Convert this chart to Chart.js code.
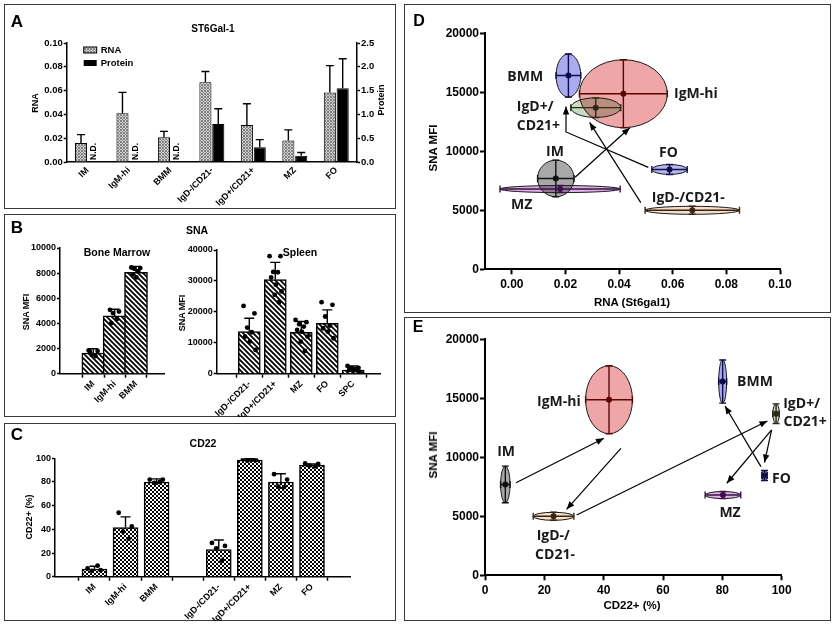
<!DOCTYPE html>
<html>
<head>
<meta charset="utf-8">
<script src="https://cdn.jsdelivr.net/npm/chart.js@4.4.1/dist/chart.umd.min.js"></script>
<style>
  body { margin: 0; background: #fff; width: 835px; height: 626px; position: relative; overflow: hidden;
         font-family: 'Liberation Sans', Arial, sans-serif; }
  .box { position: absolute; border: 1.5px solid #3a3a3a; box-sizing: border-box; }
  canvas { position: absolute; }
  .t { position: absolute; font-weight: bold; color: #000; white-space: nowrap; transform: translate(-50%, -50%); }
  .rot { transform: translate(-50%, -50%) rotate(-90deg); }
</style>
</head>
<body>
<div class="box" style="left:4px;top:4px;width:392px;height:205px"></div>
<div class="box" style="left:4px;top:214px;width:392px;height:203px"></div>
<div class="box" style="left:4px;top:423px;width:392px;height:198px"></div>
<div class="box" style="left:404px;top:4px;width:427px;height:309px"></div>
<div class="box" style="left:404px;top:317px;width:427px;height:304px"></div>

<canvas id="chartA" width="392" height="205" style="left:4px;top:4px"></canvas>
<canvas id="chartB1" width="180" height="203" style="left:4px;top:214px"></canvas>
<canvas id="chartB2" width="212" height="203" style="left:184px;top:214px"></canvas>
<canvas id="chartC" width="392" height="198" style="left:4px;top:423px"></canvas>
<canvas id="chartD" width="427" height="309" style="left:404px;top:4px"></canvas>
<canvas id="chartE" width="427" height="304" style="left:404px;top:317px"></canvas>

<!-- panel letters, titles, axis titles -->
<div class="t" style="left:17px;top:22px;font-size:17px">A</div>
<div class="t" style="left:213px;top:28px;font-size:10px">ST6Gal-1</div>
<div class="t rot" style="left:35px;top:103px;font-size:9px">RNA</div>
<div class="t rot" style="left:381px;top:100px;font-size:9px">Protein</div>

<div class="t" style="left:17px;top:228px;font-size:17px">B</div>
<div class="t" style="left:197px;top:230px;font-size:10.5px">SNA</div>
<div class="t" style="left:117px;top:252px;font-size:10.5px">Bone Marrow</div>
<div class="t" style="left:300px;top:252px;font-size:10.5px">Spleen</div>
<div class="t rot" style="left:26px;top:312px;font-size:9px">SNA MFI</div>
<div class="t rot" style="left:182px;top:313px;font-size:9px">SNA MFI</div>

<div class="t" style="left:17px;top:435px;font-size:17px">C</div>
<div class="t" style="left:203px;top:443px;font-size:10.5px">CD22</div>
<div class="t rot" style="left:29px;top:517px;font-size:9px">CD22+ (%)</div>

<div class="t" style="left:419px;top:21px;font-size:16px">D</div>
<div class="t rot" style="left:433px;top:148px;font-size:11.5px">SNA MFI</div>
<div class="t" style="left:632px;top:302px;font-size:11.5px">RNA (St6gal1)</div>

<div class="t" style="left:418px;top:327px;font-size:16px">E</div>
<div class="t rot" style="left:433px;top:455px;font-size:11.5px">SNA MFI</div>
<div class="t" style="left:632px;top:605px;font-size:11.5px">CD22+ (%)</div>

<script>
Chart.defaults.font.family = "'Liberation Sans', Arial, sans-serif";
Chart.defaults.font.weight = 'bold';
Chart.defaults.color = '#000';
Chart.defaults.animation = false;
Chart.defaults.plugins.legend.display = false;
Chart.defaults.plugins.tooltip.enabled = false;

// ---------- Panel A: ST6Gal-1 RNA and protein ----------
const aCats = ['IM', 'IgM-hi', 'BMM', 'IgD-/CD21-', 'IgD+/CD21+', 'MZ', 'FO'];
const aRna = [0.016, 0.041, 0.0207, 0.067, 0.031, 0.018, 0.0585];
const aRnaSd = [0.007, 0.0175, 0.005, 0.009, 0.018, 0.009, 0.0225];
const aProtein = [null, null, null, 0.80, 0.31, 0.13, 1.55];
const aProteinSd = [null, null, null, 0.32, 0.16, 0.07, 0.62];

// ---------- Panel B: SNA MFI ----------
const bmCats = ['IM', 'IgM-hi', 'BMM'];
const bmMean = [1650, 4600, 8070];
const bmSd = [330, 530, 470];
const bmDots = [
    [1850, 1800, 1500, 1400, 1750],
    [5080, 4950, 4820, 4360, 4020],
    [8450, 8400, 8350, 8150, 7870, 7660]
];
const spCats = ['IgD-/CD21-', 'IgD+/CD21+', 'MZ', 'FO', 'SPC'];
const spMean = [13600, 30400, 13400, 16300, 1200];
const spSd = [4350, 5600, 3460, 4330, 1300];
const spDots = [
    [21900, 19500, 14900, 13400, 12000, 10400, 7700],
    [38000, 38000, 32900, 32800, 31100, 28800, 26600, 25500, 23100],
    [17400, 16650, 16000, 15240, 14160, 13620, 12000, 10380, 7350],
    [23130, 22270, 18490, 15570, 14700, 13620, 11460],
    [2500, 1900, 1700, 1500, 1200, 1000, 700]
];

// ---------- Panel C: CD22 ----------
const cCats = ['IM', 'IgM-hi', 'BMM', '', 'IgD-/CD21-', 'IgD+/CD21+', 'MZ', 'FO'];
const cMean = [6.5, 41.5, 80, null, 23, 98.6, 80, 94.3];
const cSd = [2.3, 9, 2.6, null, 8, 1, 7, 1];
const cDots = [
    [7, 5.5, 5, 9.3],
    [54, 42.4, 38, 32],
    [82, 82, 79.2, 80],
    [],
    [28.5, 26, 24, 13.5],
    [99.5, 98.5, 98, 99],
    [86.6, 82, 76, 75.6],
    [95.7, 95.2, 93.8, 93.2]
];

// ---------- Panels D / E: populations ----------
const popNames = ['IM', 'IgM-hi', 'BMM', 'IgD-/CD21-', 'IgD+/CD21+', 'MZ', 'FO'];
const snaMean = [7700, 14880, 16420, 5000, 13700, 6800, 8460];
const snaSd = [1550, 2880, 1830, 340, 830, 300, 420];
const rnaMean = [0.0164, 0.0416, 0.0211, 0.0673, 0.0313, 0.0180, 0.0588];
const rnaSd = [0.0068, 0.0164, 0.0046, 0.0176, 0.0093, 0.0224, 0.0066];
const cd22Mean = [6.85, 41.8, 80.1, 23.1, 98.1, 80.2, 94.2];
const cd22Sd = [1.6, 7.9, 1.35, 6.85, 1.1, 6.0, 0.9];
const popFill = ['#a8a8a8', '#eea6a6', '#aaaaf0', '#f3dfca', '#c8dac2', '#ddb2e5', '#b6b6f2'];
const popLine = ['#111111', '#5a0606', '#0c0c4a', '#3c2412', '#2a2a1a', '#3c1046', '#10104a'];

const rnaTicks = [0, 0.02, 0.04, 0.06, 0.08, 0.10];

// annotations (data coordinates)
const dNotes = {
    labels: [
        { text: 'BMM', x: 0.005, y: 16270, align: 'center' },
        { text: 'IgM-hi', x: 0.0605, y: 14830, align: 'left' },
        { text: 'IgD+/', x: 0.0087, y: 13730, align: 'center' },
        { text: 'CD21+', x: 0.0099, y: 12175, align: 'center' },
        { text: 'IM', x: 0.0161, y: 9944, align: 'center' },
        { text: 'FO', x: 0.0584, y: 9887, align: 'center' },
        { text: 'MZ', x: 0.0037, y: 5452, align: 'center' },
        { text: 'IgD-/CD21-', x: 0.0658, y: 6073, align: 'center' }
    ],
    arrows: [
        [[0.0236, 7800], [0.044, 12000]],
        [[0.0509, 8640], [0.0202, 11640], [0.0202, 13800]],
        [[0.0481, 5650], [0.029, 12450]]
    ]
};
const eNotes = {
    labels: [
        { text: 'IM', x: 7.1, y: 10480, align: 'center' },
        { text: 'IgM-hi', x: 24.9, y: 14717, align: 'center' },
        { text: 'BMM', x: 91.0, y: 16413, align: 'center' },
        { text: 'IgD+/', x: 106.7, y: 14520, align: 'center' },
        { text: 'CD21+', x: 107.9, y: 12966, align: 'center' },
        { text: 'FO', x: 99.9, y: 8136, align: 'center' },
        { text: 'MZ', x: 82.6, y: 5311, align: 'center' },
        { text: 'IgD-/', x: 23, y: 3333, align: 'center' },
        { text: 'CD21-', x: 23.6, y: 1723, align: 'center' }
    ],
    arrows: [
        [[10.45, 7850], [40.1, 11610]],
        [[45.8, 10760], [27.5, 5590]],
        [[30.9, 5110], [95.2, 13080]],
        [[96.6, 12320], [81.5, 7800]],
        [[96.6, 12320], [94.2, 9550]],
        [[93.0, 9210], [80.9, 14350]]
    ]
};

// ---------- fill patterns ----------
function makePattern(kind) {
    const c = document.createElement('canvas');
    const g = c.getContext('2d');
    if (kind === 'grey') {
        c.width = c.height = 3;
        g.fillStyle = '#d2d2d2'; g.fillRect(0, 0, 3, 3);
        g.fillStyle = '#808080';
        g.fillRect(0, 0, 1, 1); g.fillRect(1, 1, 1, 1); g.fillRect(2, 2, 1, 1);
        g.fillRect(2, 0, 1, 1); g.fillRect(0, 2, 1, 1);
    } else if (kind === 'diag') {
        const s = 5;
        c.width = c.height = s;
        g.fillStyle = '#fff'; g.fillRect(0, 0, s, s);
        g.strokeStyle = '#000'; g.lineWidth = 1.8;
        g.beginPath();
        g.moveTo(-1, -1); g.lineTo(s + 1, s + 1);
        g.moveTo(-1, s - 1); g.lineTo(1, s + 1);
        g.moveTo(s - 1, -1); g.lineTo(s + 1, 1);
        g.stroke();
    } else {
        c.width = c.height = 4;
        g.fillStyle = '#fff'; g.fillRect(0, 0, 4, 4);
        g.fillStyle = '#000';
        g.fillRect(0, 0, 2, 2); g.fillRect(2, 2, 2, 2);
    }
    return g.createPattern(c, 'repeat');
}
const patGrey = makePattern('grey');
const patDiag = makePattern('diag');
const patCheck = makePattern('check');

// ---------- shared helpers ----------
function valueAxis(min, max, step, decimals, size, width, extra) {
    return Object.assign({
        min: min, max: max,
        ticks: { stepSize: step, padding: 1, font: { size: size }, callback: v => v.toFixed(decimals) },
        grid: { drawOnChartArea: false, tickLength: 3, tickWidth: 1.5, tickColor: '#000' },
        border: { color: '#000', width: 1.5 },
        afterFit: s => { s.width = width; }
    }, extra || {});
}

function catAxis(cats, min, max, size, height) {
    return {
        type: 'linear', min: min, max: max,
        afterBuildTicks: s => { s.ticks = cats.map((_, i) => ({ value: i })); },
        ticks: { autoSkip: false, minRotation: 45, maxRotation: 45, padding: 1, font: { size: size },
                 callback: v => cats[v] },
        grid: { drawOnChartArea: false, tickLength: 4, tickWidth: 1.5, tickColor: '#000' },
        border: { color: '#000', width: 1.5 },
        afterFit: s => { s.height = height; }
    };
}

const jit = [-0.22, 0.2, -0.08, 0.1, -0.16, 0.02, 0.24, -0.02, 0.14];
function dotData(groups) {
    return groups.flatMap((vals, i) => vals.map((v, k) => ({ x: i + jit[k % jit.length], y: v })));
}

// error bars (mean + SD) above bars
const errorBarPlugin = {
    id: 'errorBars',
    afterDatasetsDraw(chart) {
        const ctx = chart.ctx;
        chart.data.datasets.forEach((ds, di) => {
            if (!ds.sd) return;
            const meta = chart.getDatasetMeta(di);
            const yScale = chart.scales[meta.yAxisID];
            meta.data.forEach((el, i) => {
                const raw = ds.data[i];
                const v = (raw !== null && typeof raw === 'object') ? raw.y : raw;
                const sd = ds.sd[i];
                if (v == null || sd == null) return;
                const cap = ds.cap || 4;
                const yTop = yScale.getPixelForValue(v + sd);
                const yMid = yScale.getPixelForValue(v);
                ctx.save();
                ctx.strokeStyle = '#000';
                ctx.lineWidth = 1.4;
                ctx.beginPath();
                ctx.moveTo(el.x, yMid); ctx.lineTo(el.x, yTop);
                ctx.moveTo(el.x - cap, yTop); ctx.lineTo(el.x + cap, yTop);
                ctx.stroke();
                ctx.restore();
            });
        });
    }
};

// legend and N.D. marks of panel A
const panelAExtras = {
    id: 'panelAExtras',
    afterDatasetsDraw(chart) {
        const ctx = chart.ctx;
        const area = chart.chartArea;
        ctx.save();
        // legend
        const lx = area.left + 17, ly = area.top + 4;
        ctx.fillStyle = patGrey; ctx.fillRect(lx, ly, 13, 6);
        ctx.strokeStyle = '#000'; ctx.lineWidth = 1; ctx.strokeRect(lx, ly, 13, 6);
        ctx.fillStyle = '#000'; ctx.fillRect(lx, ly + 13, 13, 6);
        ctx.font = "bold 9.5px 'Liberation Sans', Arial, sans-serif";
        ctx.textBaseline = 'middle';
        ctx.fillText('RNA', lx + 17, ly + 3);
        ctx.fillText('Protein', lx + 17, ly + 16);
        // N.D.
        const rnaMeta = chart.getDatasetMeta(0);
        const protMeta = chart.getDatasetMeta(1);
        const base = chart.scales.y1.getPixelForValue(0);
        aProtein.forEach((v, i) => {
            if (v !== null) return;
            let x = protMeta.data[i] && protMeta.data[i].x;
            if (!isFinite(x)) x = rnaMeta.data[i].x + rnaMeta.data[i].width + 1;
            ctx.save();
            ctx.translate(x, base - 2);
            ctx.rotate(-Math.PI / 2);
            ctx.textAlign = 'left';
            ctx.textBaseline = 'middle';
            ctx.font = "bold 8.5px 'Liberation Sans', Arial, sans-serif";
            ctx.fillText('N.D.', 0, 0);
            ctx.restore();
        });
        ctx.restore();
    }
};

// ellipses, crosses, arrows and labels of panels D and E
function ellipsePlugin(xMean, xSd, notes) {
    return {
        id: 'ellipses',
        beforeDatasetsDraw(chart) {
            const ctx = chart.ctx;
            const xs = chart.scales.x, ys = chart.scales.y;
            const geo = popNames.map((_, i) => {
                const cx = xs.getPixelForValue(xMean[i]);
                const cy = ys.getPixelForValue(snaMean[i]);
                return {
                    cx: cx, cy: cy,
                    rx: Math.abs(xs.getPixelForValue(xMean[i] + xSd[i]) - cx),
                    ry: Math.abs(ys.getPixelForValue(snaMean[i] + snaSd[i]) - cy)
                };
            });
            ctx.save();
            ctx.globalCompositeOperation = 'multiply';
            geo.forEach((g, i) => {
                ctx.beginPath();
                ctx.ellipse(g.cx, g.cy, g.rx, g.ry, 0, 0, Math.PI * 2);
                ctx.fillStyle = popFill[i];
                ctx.fill();
            });
            ctx.globalCompositeOperation = 'source-over';
            geo.forEach(g => {
                ctx.beginPath();
                ctx.ellipse(g.cx, g.cy, g.rx, g.ry, 0, 0, Math.PI * 2);
                ctx.strokeStyle = '#1a1a1a';
                ctx.lineWidth = 1;
                ctx.stroke();
            });
            geo.forEach((g, i) => {
                const cap = 3.5;
                ctx.strokeStyle = popLine[i];
                ctx.lineWidth = 1.4;
                ctx.beginPath();
                ctx.moveTo(g.cx - g.rx, g.cy); ctx.lineTo(g.cx + g.rx, g.cy);
                ctx.moveTo(g.cx - g.rx, g.cy - cap); ctx.lineTo(g.cx - g.rx, g.cy + cap);
                ctx.moveTo(g.cx + g.rx, g.cy - cap); ctx.lineTo(g.cx + g.rx, g.cy + cap);
                ctx.moveTo(g.cx, g.cy - g.ry); ctx.lineTo(g.cx, g.cy + g.ry);
                ctx.moveTo(g.cx - cap, g.cy - g.ry); ctx.lineTo(g.cx + cap, g.cy - g.ry);
                ctx.moveTo(g.cx - cap, g.cy + g.ry); ctx.lineTo(g.cx + cap, g.cy + g.ry);
                ctx.stroke();
            });
            ctx.restore();
        },
        afterDatasetsDraw(chart) {
            const ctx = chart.ctx;
            const xs = chart.scales.x, ys = chart.scales.y;
            ctx.save();
            ctx.strokeStyle = '#000';
            ctx.fillStyle = '#000';
            ctx.lineWidth = 1.2;
            notes.arrows.forEach(pts => {
                const p = pts.map(q => [xs.getPixelForValue(q[0]), ys.getPixelForValue(q[1])]);
                ctx.beginPath();
                ctx.moveTo(p[0][0], p[0][1]);
                for (let k = 1; k < p.length; k++) ctx.lineTo(p[k][0], p[k][1]);
                ctx.stroke();
                const a = p[p.length - 2], b = p[p.length - 1];
                const ang = Math.atan2(b[1] - a[1], b[0] - a[0]);
                ctx.beginPath();
                ctx.moveTo(b[0], b[1]);
                ctx.lineTo(b[0] - 8 * Math.cos(ang) + 3.2 * Math.sin(ang), b[1] - 8 * Math.sin(ang) - 3.2 * Math.cos(ang));
                ctx.lineTo(b[0] - 8 * Math.cos(ang) - 3.2 * Math.sin(ang), b[1] - 8 * Math.sin(ang) + 3.2 * Math.cos(ang));
                ctx.closePath();
                ctx.fill();
            });
            ctx.fillStyle = '#1a1a1a';
            ctx.font = "bold 14px 'Open Sans', 'Liberation Sans', sans-serif";
            ctx.textBaseline = 'middle';
            notes.labels.forEach(l => {
                ctx.textAlign = l.align;
                ctx.fillText(l.text, xs.getPixelForValue(l.x), ys.getPixelForValue(l.y));
            });
            ctx.restore();
        }
    };
}

// ---------- Panel A ----------
new Chart(document.getElementById('chartA'), {
    type: 'bar',
    data: {
        labels: aCats,
        datasets: [
            { label: 'RNA', data: aRna, sd: aRnaSd, yAxisID: 'y', backgroundColor: patGrey,
              borderColor: '#000', borderWidth: 1, categoryPercentage: 0.62, barPercentage: 0.94 },
            { label: 'Protein', data: aProtein, sd: aProteinSd, yAxisID: 'y1', backgroundColor: '#000',
              borderColor: '#000', borderWidth: 1, categoryPercentage: 0.62, barPercentage: 0.94 }
        ]
    },
    options: {
        responsive: false,
        layout: { padding: { top: 39, left: 0, right: 0, bottom: 0 } },
        scales: {
            x: {
                grid: { display: false, drawTicks: false, tickLength: 0 },
                border: { color: '#000', width: 1.5 },
                ticks: { autoSkip: false, minRotation: 45, maxRotation: 45, padding: 3, font: { size: 9 } },
                afterFit: s => { s.height = 47; }
            },
            y: valueAxis(0, 0.1, 0.02, 2, 9.5, 62.7),
            y1: valueAxis(0, 2.5, 0.5, 1, 9.5, 39, { position: 'right' })
        }
    },
    plugins: [errorBarPlugin, panelAExtras]
});

// ---------- Panel B: bone marrow ----------
new Chart(document.getElementById('chartB1'), {
    type: 'bar',
    data: {
        datasets: [
            { type: 'scatter', data: dotData(bmDots), order: 0, pointRadius: 2.4,
              pointBackgroundColor: '#000', pointBorderWidth: 0 },
            { data: bmMean.map((v, i) => ({ x: i, y: v })), sd: bmSd, cap: 5, order: 1, barThickness: 23,
              backgroundColor: patDiag, borderColor: '#000', borderWidth: 1.5 }
        ]
    },
    options: {
        responsive: false,
        layout: { padding: { top: 34, left: 0, right: 20, bottom: 0 } },
        scales: {
            x: catAxis(bmCats, -0.75, 2.5, 9, 43.3),
            y: valueAxis(0, 10000, 2000, 0, 9, 56)
        }
    },
    plugins: [errorBarPlugin]
});

// ---------- Panel B: spleen ----------
new Chart(document.getElementById('chartB2'), {
    type: 'bar',
    data: {
        datasets: [
            { type: 'scatter', data: dotData(spDots), order: 0, pointRadius: 2.4,
              pointBackgroundColor: '#000', pointBorderWidth: 0 },
            { data: spMean.map((v, i) => ({ x: i, y: v })), sd: spSd, cap: 5, order: 1, barThickness: 22,
              backgroundColor: patDiag, borderColor: '#000', borderWidth: 1.5 }
        ]
    },
    options: {
        responsive: false,
        layout: { padding: { top: 36, left: 0, right: 16, bottom: 0 } },
        scales: {
            x: catAxis(spCats, -0.625, 4.4, 9, 43.3),
            y: valueAxis(0, 40000, 10000, 0, 9, 32.7)
        }
    },
    plugins: [errorBarPlugin]
});

// ---------- Panel C ----------
new Chart(document.getElementById('chartC'), {
    type: 'bar',
    data: {
        datasets: [
            { type: 'scatter', data: dotData(cDots), order: 0, pointRadius: 2.4,
              pointBackgroundColor: '#000', pointBorderWidth: 0 },
            { data: cMean.map((v, i) => ({ x: i, y: v })), sd: cSd, cap: 5, order: 1, barThickness: 25,
              backgroundColor: patCheck, borderColor: '#000', borderWidth: 1.5 }
        ]
    },
    options: {
        responsive: false,
        layout: { padding: { top: 35.3, left: 0, right: 46, bottom: 0 } },
        scales: {
            x: catAxis(cCats, -0.676, 7.63, 9, 44.3),
            y: valueAxis(0, 100, 20, 0, 9, 51)
        }
    },
    plugins: [errorBarPlugin]
});

// ---------- Panels D and E ----------
function scatterPanel(id, xMean, xSd, xAxis, notes, padTop, padRight, xHeight) {
    return new Chart(document.getElementById(id), {
        type: 'scatter',
        data: {
            datasets: [{
                data: xMean.map((v, i) => ({ x: v, y: snaMean[i] })),
                pointRadius: 3, pointBackgroundColor: popLine, pointBorderWidth: 0
            }]
        },
        options: {
            responsive: false,
            layout: { padding: { top: padTop, left: 0, right: padRight, bottom: 0 } },
            scales: {
                x: Object.assign({
                    type: 'linear',
                    grid: { drawOnChartArea: false, tickLength: 5, tickWidth: 2, tickColor: '#000' },
                    border: { color: '#000', width: 2 },
                    afterFit: s => { s.height = xHeight; }
                }, xAxis),
                y: valueAxis(0, 20000, 5000, 0, 12, 81, {
                    grid: { drawOnChartArea: false, tickLength: 5, tickWidth: 2, tickColor: '#000' },
                    border: { color: '#000', width: 2 }
                })
            }
        },
        plugins: [ellipsePlugin(xMean, xSd, notes)]
    });
}

scatterPanel('chartD', rnaMean, rnaSd, {
    min: -0.01, max: 0.1,
    afterBuildTicks: s => { s.ticks = rnaTicks.map(v => ({ value: v })); },
    ticks: { padding: 3, font: { size: 12 }, callback: v => v.toFixed(2) }
}, dNotes, 29.3, 51, 43.7);

scatterPanel('chartE', cd22Mean, cd22Sd, {
    min: 0, max: 100,
    ticks: { stepSize: 20, padding: 3, font: { size: 12 } }
}, eNotes, 22.3, 49.3, 45.7);
</script>
</body>
</html>
